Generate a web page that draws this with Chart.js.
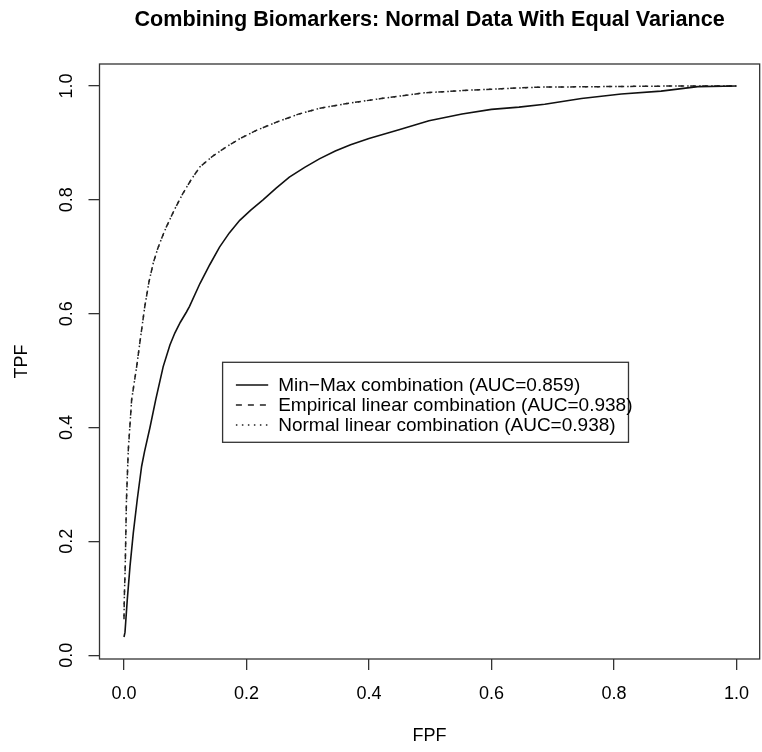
<!DOCTYPE html>
<html>
<head>
<meta charset="utf-8">
<script src="https://cdn.jsdelivr.net/npm/chart.js@4.4.1/dist/chart.umd.min.js"></script>
<style>
html,body{margin:0;padding:0;background:#fff;}
#wrap{width:762px;height:752px;}
canvas{display:block;}
</style>
</head>
<body>
<div id="wrap"><canvas id="c" width="762" height="752"></canvas></div>
<script>
// ---------- data ----------
const titleText = "Combining Biomarkers: Normal Data With Equal Variance";
const xTitle = "FPF";
const yTitle = "TPF";
const xTicks = [0, 0.2, 0.4, 0.6, 0.8, 1.0];
const yTicks = [0, 0.2, 0.4, 0.6, 0.8, 1.0];
const seriesLabels = [
  "Min\u2212Max combination (AUC=0.859)",
  "Empirical linear combination (AUC=0.938)",
  "Normal linear combination (AUC=0.938)"
];
const legendAt = [0.161, 0.5146];

const minMaxFPF = [0.000,0.0016,0.0054,0.0098,0.0152,0.0217,0.0288,0.0336,0.0424,0.052,0.064,0.075,0.083,0.092,0.102,0.107,0.124,0.140,0.156,0.172,0.189,0.207,0.227,0.248,0.270,0.295,0.319,0.345,0.370,0.400,0.449,0.498,0.552,0.600,0.645,0.687,0.747,0.812,0.877,0.937,1.000];
const minMaxTPF = [0.032,0.040,0.098,0.156,0.215,0.274,0.332,0.358,0.400,0.450,0.507,0.545,0.566,0.585,0.603,0.613,0.653,0.686,0.717,0.742,0.764,0.782,0.800,0.820,0.840,0.857,0.872,0.886,0.897,0.908,0.923,0.939,0.951,0.959,0.963,0.968,0.978,0.986,0.991,0.999,1.000];

const empFPF = [0.000,0.0005,0.002,0.004,0.007,0.0125,0.0207,0.026,0.034,0.041,0.048,0.055,0.062,0.069,0.082,0.096,0.110,0.124,0.145,0.167,0.190,0.216,0.250,0.286,0.320,0.362,0.420,0.490,0.568,0.676,0.785,0.900,1.000];
const empTPF = [0.063,0.100,0.155,0.272,0.360,0.449,0.507,0.550,0.613,0.657,0.690,0.714,0.734,0.752,0.782,0.811,0.836,0.858,0.877,0.893,0.908,0.922,0.937,0.951,0.961,0.969,0.978,0.988,0.993,0.998,0.999,1.000,1.000];

const normFPF = [0.000,0.0005,0.002,0.004,0.007,0.0125,0.0207,0.026,0.034,0.041,0.048,0.055,0.062,0.069,0.082,0.096,0.110,0.124,0.145,0.167,0.190,0.216,0.250,0.286,0.320,0.362,0.420,0.490,0.568,0.676,0.785,0.900,1.000];
const normTPF = [0.063,0.100,0.155,0.272,0.360,0.449,0.507,0.550,0.613,0.657,0.690,0.714,0.734,0.752,0.782,0.811,0.836,0.858,0.877,0.893,0.908,0.922,0.937,0.951,0.961,0.969,0.978,0.988,0.993,0.998,0.999,1.000,1.000];

// ---------- chart ----------
const FAMILY = '"Liberation Sans", Arial, Helvetica, sans-serif';
const toPts = (xs, ys) => xs.map((x, i) => ({x: x, y: ys[i]}));

const rBox = {
  id: 'rBox',
  afterDatasetsDraw(chart) {
    const {ctx, chartArea: a} = chart;
    ctx.save();
    ctx.strokeStyle = '#333';
    ctx.lineWidth = 1.3;
    ctx.setLineDash([]);
    ctx.strokeRect(a.left, a.top, a.right - a.left, a.bottom - a.top);
    ctx.restore();
  }
};

const rLegend = {
  id: 'rLegend',
  afterDraw(chart) {
    const {ctx} = chart;
    const xs = chart.scales.x, ys = chart.scales.y;
    const left = xs.getPixelForValue(legendAt[0]);
    const top = ys.getPixelForValue(legendAt[1]);
    ctx.save();
    ctx.font = '19px ' + FAMILY;
    const ds = chart.data.datasets;
    const textX = left + 55.6;
    const maxW = Math.max(...ds.map(d => ctx.measureText(d.label).width));
    const w = textX - left + maxW - 4;
    const h = 80;
    ctx.fillStyle = '#fff';
    ctx.fillRect(left, top, w, h);
    ctx.strokeStyle = '#333';
    ctx.lineWidth = 1.3;
    ctx.setLineDash([]);
    ctx.strokeRect(left, top, w, h);
    ds.forEach((d, i) => {
      const cy = top + 22.7 + 20 * i;
      ctx.beginPath();
      ctx.strokeStyle = d.borderColor;
      ctx.lineWidth = d.borderWidth;
      ctx.setLineDash(d.borderDash || []);
      ctx.moveTo(left + 13.3, cy);
      ctx.lineTo(left + 45.6, cy);
      ctx.stroke();
      ctx.setLineDash([]);
      ctx.fillStyle = '#000';
      ctx.textAlign = 'left';
      ctx.textBaseline = 'alphabetic';
      ctx.fillText(d.label, textX, cy + 6.5);
    });
    ctx.restore();
  }
};

new Chart(document.getElementById('c'), {
  type: 'scatter',
  data: {
    datasets: [
      {label: seriesLabels[0], data: toPts(minMaxFPF, minMaxTPF), showLine: true, pointRadius: 0,
       borderColor: '#111', borderWidth: 1.6, borderDash: [], tension: 0, fill: false},
      {label: seriesLabels[1], data: toPts(empFPF, empTPF), showLine: true, pointRadius: 0,
       borderColor: '#222', borderWidth: 1.5, borderDash: [6, 6], tension: 0, fill: false},
      {label: seriesLabels[2], data: toPts(normFPF, normTPF), showLine: true, pointRadius: 0,
       borderColor: '#222', borderWidth: 1.5, borderDash: [1.5, 4.5], borderDashOffset: 3, tension: 0, fill: false}
    ]
  },
  options: {
    responsive: false,
    animation: false,
    devicePixelRatio: 1,
    layout: {padding: {top: 0, right: 1, bottom: 0, left: 0}},
    plugins: {
      legend: {display: false},
      tooltip: {enabled: false},
      title: {
        display: true, text: titleText, fullSize: false, color: '#000',
        font: {family: FAMILY, size: 21.6, weight: 'bold', lineHeight: 1.2},
        padding: {top: 7, bottom: 31.08}
      }
    },
    scales: {
      x: {
        type: 'linear', min: -0.04, max: 1.038,
        afterBuildTicks: s => { s.ticks = xTicks.map(v => ({value: v})); },
        afterFit: s => { s.height = 93; },
        grid: {display: true, drawOnChartArea: false, drawTicks: true, tickLength: 11, color: '#333', lineWidth: 1.3},
        border: {display: false},
        ticks: {color: '#000', font: {family: FAMILY, size: 18}, padding: 13, maxRotation: 0, minRotation: 0,
                callback: v => Number(v).toFixed(1)},
        title: {display: true, text: xTitle, color: '#000', font: {family: FAMILY, size: 18}, padding: {top: 0, bottom: 5}}
      },
      y: {
        type: 'linear', min: -0.0067, max: 1.0387,
        afterBuildTicks: s => { s.ticks = yTicks.map(v => ({value: v})); },
        afterFit: s => { s.width = 99.5; },
        grid: {display: true, drawOnChartArea: false, drawTicks: true, tickLength: 11, color: '#333', lineWidth: 1.3},
        border: {display: false},
        ticks: {color: '#000', font: {family: FAMILY, size: 18}, padding: 9, maxRotation: 90, minRotation: 90,
                crossAlign: 'center', callback: v => Number(v).toFixed(1)},
        title: {display: true, text: yTitle, color: '#000', font: {family: FAMILY, size: 18}, padding: {top: 11, bottom: 0}}
      }
    }
  },
  plugins: [rBox, rLegend]
});
</script>
</body>
</html>
